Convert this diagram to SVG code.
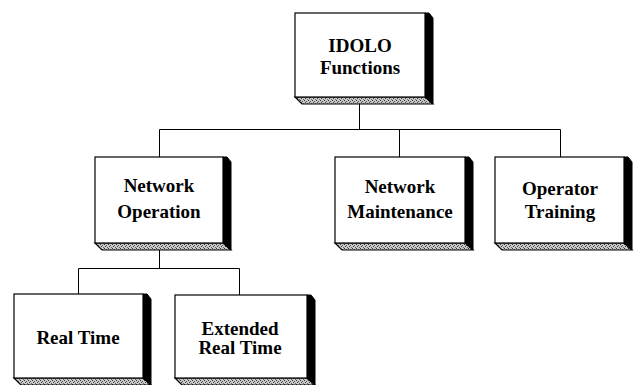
<svg xmlns="http://www.w3.org/2000/svg" width="634" height="385" viewBox="0 0 634 385">
<defs>
<pattern id="dith" width="4" height="4" patternUnits="userSpaceOnUse">
<rect width="4" height="4" fill="#c8c8c8"/>
<rect x="0" y="0" width="1" height="1" fill="#333"/>
<rect x="2" y="1" width="1" height="1" fill="#555"/>
<rect x="1" y="2" width="1" height="1" fill="#444"/>
<rect x="3" y="3" width="1" height="1" fill="#666"/>
</pattern>
</defs>
<style>
.face{fill:#fff;stroke:#000;stroke-width:1.2}
.side{fill:#000;stroke:#000;stroke-width:1}
.bot{fill:url(#dith);stroke:#000;stroke-width:1.2}
.lbl{font-family:"Liberation Serif","Times New Roman",serif;font-weight:bold;font-size:19px;text-anchor:middle;fill:#000}
.conn{stroke:#000;stroke-width:1;fill:none}
</style>
<rect width="634" height="385" fill="#fff"/>
<g id="connectors">
<path class="conn" d="M359.5 97V129.5M159.5 129.5H560.5M159.5 129.5V157M399.5 129.5V157M560.5 129.5V157"/>
<path class="conn" d="M159.5 243V268.5M78.5 268.5H239.5M78.5 268.5V294M239.5 268.5V295"/>
</g>
<g id="idolo">
<polygon class="bot" points="295,97 425,97 433,104 302,104"/>
<polygon class="side" points="425,13 429,13 433,18 433,104 425,97"/>
<rect class="face" x="295" y="13" width="130" height="84"/>
<text class="lbl" x="360" y="52">IDOLO</text>
<text class="lbl" x="360" y="74">Functions</text>
</g>
<g id="network-operation">
<polygon class="bot" points="95,243 223,243 231,250 102,250"/>
<polygon class="side" points="223,157 227,157 231,162 231,250 223,243"/>
<rect class="face" x="95" y="157" width="128" height="86"/>
<text class="lbl" x="159" y="192">Network</text>
<text class="lbl" x="159" y="218">Operation</text>
</g>
<g id="network-maintenance">
<polygon class="bot" points="335,243 465,243 473,250 342,250"/>
<polygon class="side" points="465,157 469,157 473,162 473,250 465,243"/>
<rect class="face" x="335" y="157" width="130" height="86"/>
<text class="lbl" x="400" y="193">Network</text>
<text class="lbl" x="400" y="218">Maintenance</text>
</g>
<g id="operator-training">
<polygon class="bot" points="495,243 624,243 632,250 502,250"/>
<polygon class="side" points="624,157 628,157 632,162 632,250 624,243"/>
<rect class="face" x="495" y="157" width="129" height="86"/>
<text class="lbl" x="560" y="195">Operator</text>
<text class="lbl" x="560" y="218">Training</text>
</g>
<g id="real-time">
<polygon class="bot" points="14,378 143,378 151,385 21,385"/>
<polygon class="side" points="143,294 147,294 151,299 151,385 143,378"/>
<rect class="face" x="14" y="294" width="129" height="84"/>
<text class="lbl" x="78" y="344">Real Time</text>
</g>
<g id="extended-real-time">
<polygon class="bot" points="175,378 307,378 315,385 182,385"/>
<polygon class="side" points="307,295 311,295 315,300 315,385 307,378"/>
<rect class="face" x="175" y="295" width="132" height="83"/>
<text class="lbl" x="240" y="335">Extended</text>
<text class="lbl" x="240" y="354">Real Time</text>
</g>
</svg>
